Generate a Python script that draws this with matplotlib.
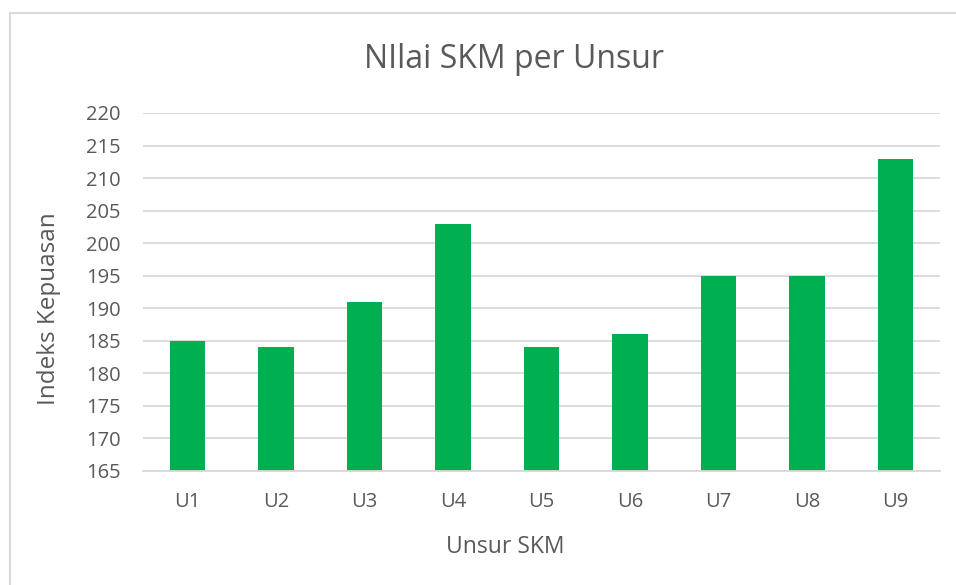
import matplotlib
matplotlib.use("Agg")
import matplotlib.pyplot as plt
from matplotlib.patches import Rectangle

plt.rcParams['font.family'] = ['Open Sans', 'DejaVu Sans']

# data
categories = ['U1', 'U2', 'U3', 'U4', 'U5', 'U6', 'U7', 'U8', 'U9']
values = [185, 184, 191, 203, 184, 186, 195, 195, 213]
yticks = list(range(165, 221, 5))

TXT = '#595959'
GRID = '#d9d9d9'
GREEN = '#00b050'

fig = plt.figure(figsize=(9.56, 5.85), dpi=100)
ax = fig.add_axes([143/956, 1-471/585, (940-143)/956, (471-113)/585])

ax.bar(range(len(categories)), values, width=0.40, color=GREEN, zorder=3)
ax.set_xlim(-0.5, len(categories)-0.5)
ax.set_ylim(165, 220)
ax.set_yticks(yticks)
ax.set_xticks(range(len(categories)))
ax.set_xticklabels(categories)

ax.yaxis.grid(True, color=GRID, lw=1.3, zorder=0)
for s in ['top', 'right', 'left']:
    ax.spines[s].set_visible(False)
ax.spines['bottom'].set_color(GRID)
ax.spines['bottom'].set_linewidth(1.3)
ax.spines['bottom'].set_zorder(4)
ax.tick_params(axis='both', length=0, colors=TXT, labelsize=14.5)
ax.tick_params(axis='x', pad=15)
ax.tick_params(axis='y', pad=16)

# axis titles and chart title
fig.text(505/956, 1-547/585, 'Unsur SKM', ha='center', va='center',
         color=TXT, fontsize=16.5)
fig.text(49/956, 1-309/585, 'Indeks Kepuasan', ha='center', va='center',
         rotation=90, color=TXT, fontsize=17.5)
fig.text(514/956, 1-60/585, 'NIlai SKM per Unsur', ha='center', va='center',
         color=TXT, fontsize=23)

# chart border (left/top visible, rest cut off)
fig.patches.append(Rectangle((9.5/956, -0.05), 1.2, 1-13/585+0.05,
                             transform=fig.transFigure, fill=False,
                             ec=GRID, lw=1.5))

fig.savefig('out.png', dpi=100)
